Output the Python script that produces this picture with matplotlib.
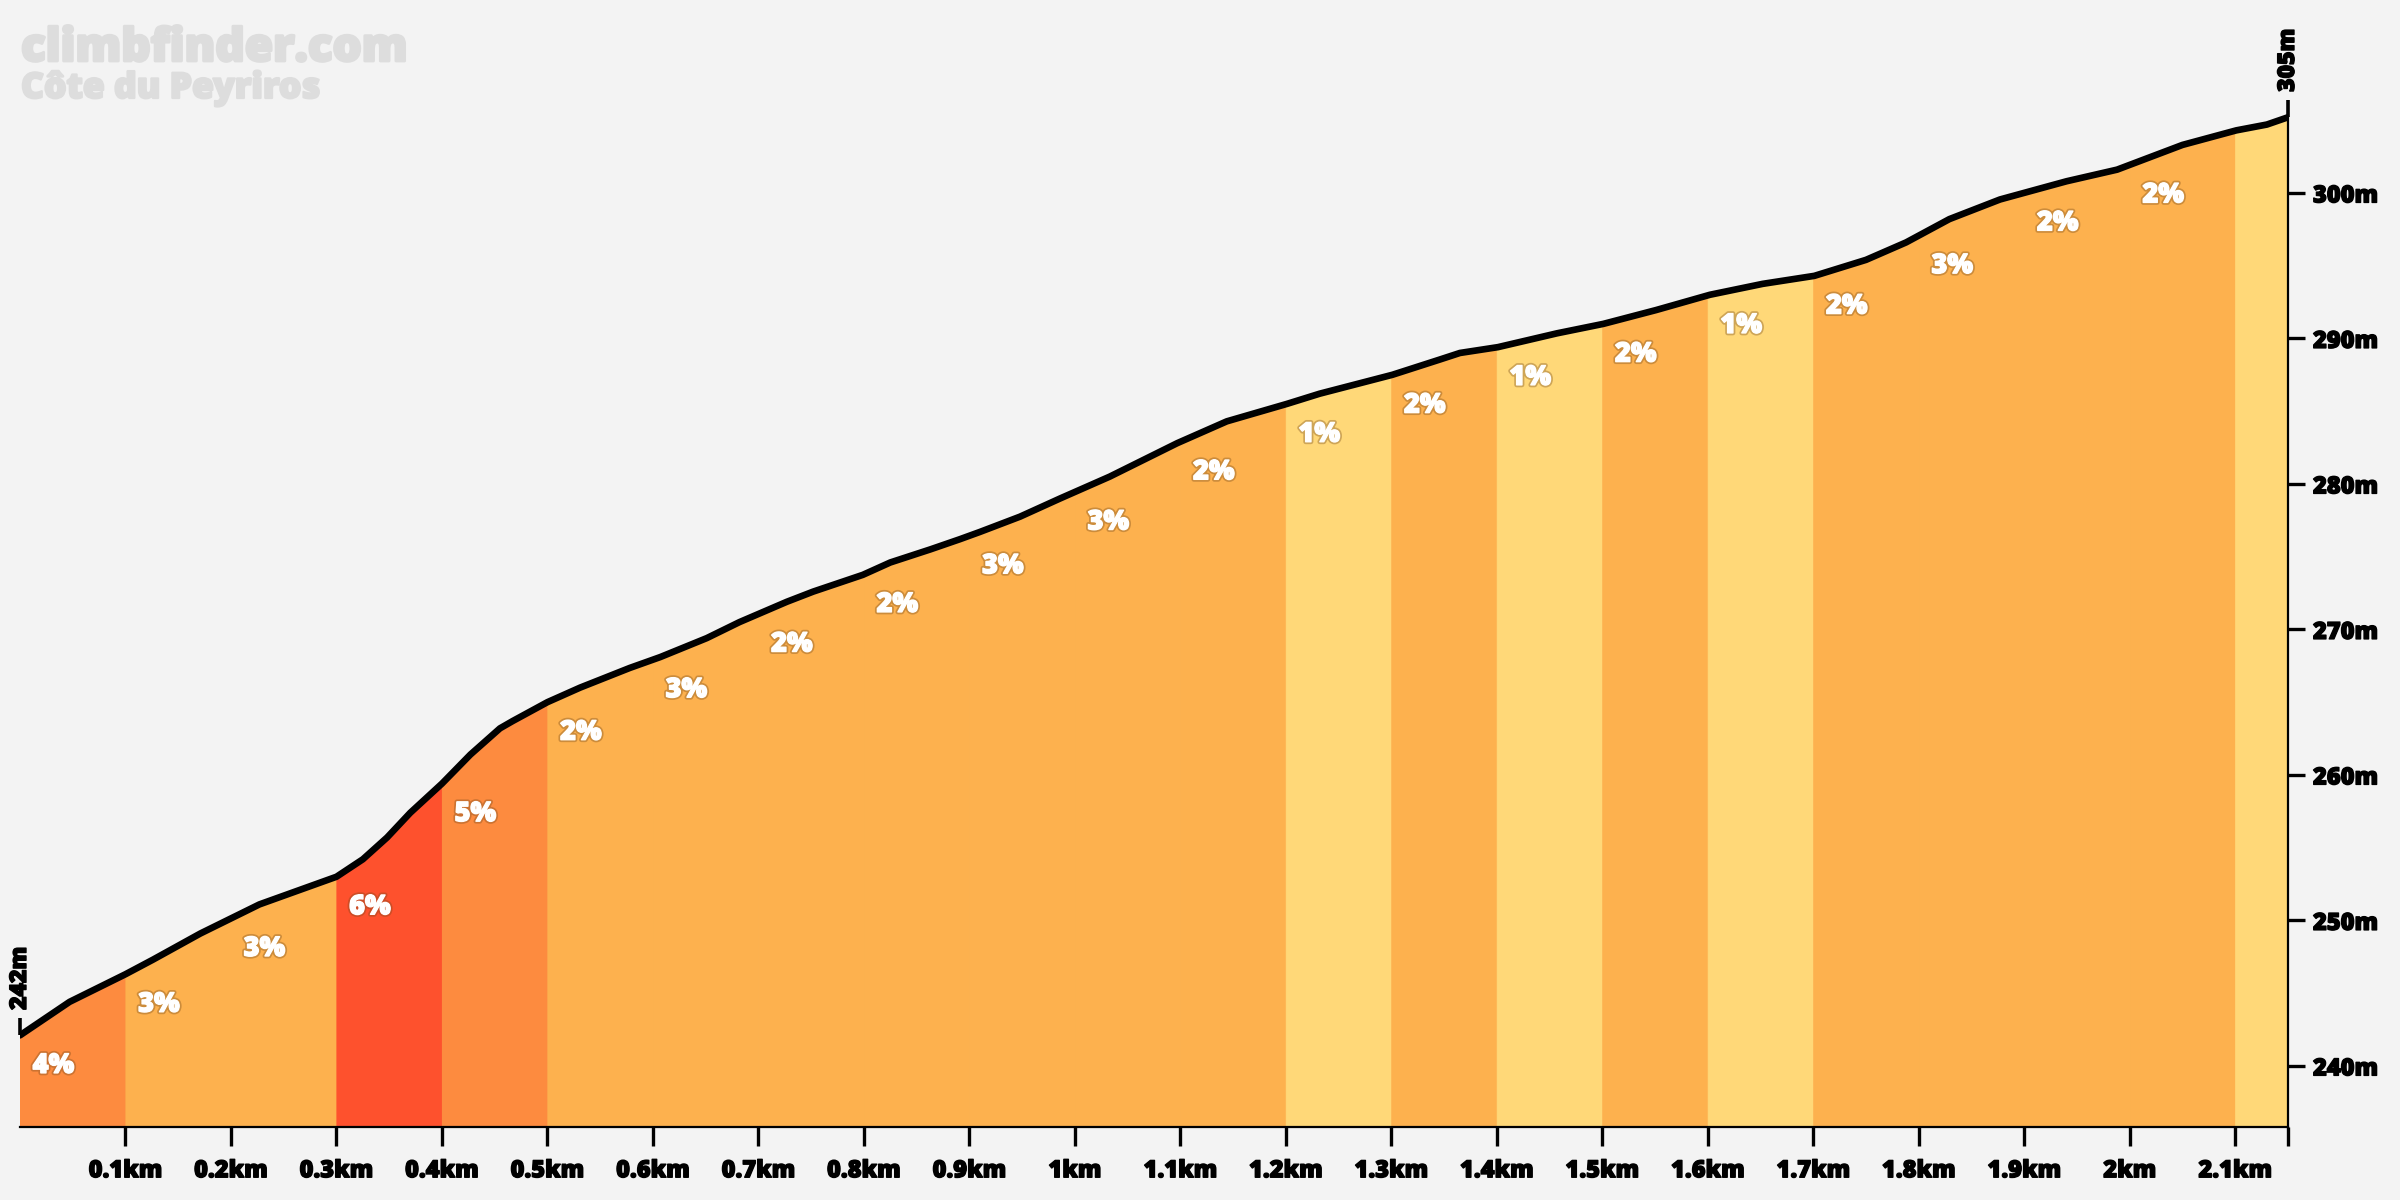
import numpy as np
import matplotlib
matplotlib.use("Agg")
import matplotlib.pyplot as plt
import matplotlib.patheffects as pe

# ---- data ----
dist_km = [0.000, 0.047, 0.100, 0.126, 0.171, 0.227, 0.300, 0.325, 0.348, 0.370,
           0.400, 0.427, 0.455, 0.467, 0.500, 0.531, 0.578, 0.607, 0.651, 0.682,
           0.727, 0.752, 0.799, 0.825, 0.863, 0.891, 0.910, 0.948, 0.986, 1.033,
           1.097, 1.144, 1.201, 1.232, 1.301, 1.346, 1.365, 1.401, 1.457, 1.501,
           1.551, 1.602, 1.652, 1.701, 1.750, 1.788, 1.829, 1.877, 1.940, 1.988,
           2.050, 2.101, 2.130, 2.150]
elev_m = [242.1, 244.4, 246.3, 247.3, 249.1, 251.1, 253.0, 254.2, 255.7, 257.4,
          259.4, 261.4, 263.2, 263.7, 265.0, 266.0, 267.35, 268.1, 269.4, 270.5,
          271.9, 272.6, 273.75, 274.6, 275.5, 276.2, 276.7, 277.75, 279.0, 280.5,
          282.8, 284.3, 285.5, 286.2, 287.5, 288.55, 289.0, 289.4, 290.35, 291.0,
          291.95, 293.0, 293.75, 294.3, 295.4, 296.6, 298.2, 299.55, 300.8, 301.6,
          303.3, 304.3, 304.7, 305.2]

seg_start = [0.0, 0.1, 0.2, 0.3, 0.4, 0.5, 0.6, 0.7, 0.8, 0.9, 1.0, 1.1, 1.2,
             1.3, 1.4, 1.5, 1.6, 1.7, 1.8, 1.9, 2.0, 2.1]
seg_end = [0.1, 0.2, 0.3, 0.4, 0.5, 0.6, 0.7, 0.8, 0.9, 1.0, 1.1, 1.2, 1.3,
           1.4, 1.5, 1.6, 1.7, 1.8, 1.9, 2.0, 2.1, 2.15]
seg_grade = [4, 3, 3, 6, 5, 2, 3, 2, 2, 3, 3, 2, 1, 2, 1, 2, 1, 2, 3, 2, 2, 1]
seg_label = ["4%", "3%", "3%", "6%", "5%", "2%", "3%", "2%", "2%", "3%", "3%",
             "2%", "1%", "2%", "1%", "2%", "1%", "2%", "3%", "2%", "2%", ""]

x_ticks = [0.1, 0.2, 0.3, 0.4, 0.5, 0.6, 0.7, 0.8, 0.9, 1.0, 1.1, 1.2, 1.3,
           1.4, 1.5, 1.6, 1.7, 1.8, 1.9, 2.0, 2.1]
x_tick_labels = ["0.1km", "0.2km", "0.3km", "0.4km", "0.5km", "0.6km", "0.7km",
                 "0.8km", "0.9km", "1km", "1.1km", "1.2km", "1.3km", "1.4km",
                 "1.5km", "1.6km", "1.7km", "1.8km", "1.9km", "2km", "2.1km"]
y_ticks = [240, 250, 260, 270, 280, 290, 300]
y_tick_labels = ["240m", "250m", "260m", "270m", "280m", "290m", "300m"]

title_site = "climbfinder.com"
title_climb = "Côte du Peyriros"
start_label = "242m"
end_label = "305m"

grade_colors = {1: "#FFD878", 2: "#FDB14E", 3: "#FDB14E", 4: "#FD8B3F",
                5: "#FD8B3F", 6: "#FE512D"}

# ---- style ----
BG = "#F3F3F3"
FONT = "Open Sans"
plt.rcParams["font.family"] = [FONT, "DejaVu Sans"]
W = 800

def thick(color, lw=1.2):
    return [pe.withStroke(linewidth=lw, foreground=color)]

fig = plt.figure(figsize=(24, 12), dpi=100, facecolor=BG)
ax = fig.add_axes([20 / 2400, 73 / 1200, 2268 / 2400, 1127 / 1200])
ax.set_facecolor(BG)
ymin, ymax = 235.8, 313.26
ax.set_xlim(0, 2.15)
ax.set_ylim(ymin, ymax)

d = np.array(dist_km)
e = np.array(elev_m)

for s, t, g in zip(seg_start, seg_end, seg_grade):
    inside = (d > s) & (d < t)
    xs = np.concatenate([[s], d[inside], [t]])
    ys = np.interp(xs, d, e)
    c = grade_colors[g]
    ax.fill_between(xs, ymin, ys, facecolor=c, edgecolor=c, linewidth=0.8,
                    zorder=1)

ax.plot(d, e, color="black", lw=4.8, solid_capstyle="round",
        solid_joinstyle="round", zorder=3)

# percentage labels
shadow = [pe.withStroke(linewidth=3.5, foreground=(0.45, 0.28, 0.1, 0.35)),
          pe.withStroke(linewidth=1.0, foreground="white")]
for s, lab in zip(seg_start, seg_label):
    if not lab:
        continue
    y0 = np.interp(s, d, e)
    ax.text(s + 0.012, y0 - 2.1, lab, color="white", fontsize=19.5,
            fontweight=W, ha="left", va="center", zorder=4,
            path_effects=shadow)

# start/end markers
for xk, yk, lab in [(d[0], e[0], start_label), (d[-1], e[-1], end_label)]:
    ax.plot([xk, xk], [yk, yk + 1.2], color="black", lw=2.6, zorder=5,
            clip_on=False, solid_capstyle="butt")
    ax.text(xk, yk + 1.75, lab, rotation=90, ha="center", va="bottom",
            fontsize=16.5, fontweight=W, color="black", zorder=5,
            path_effects=thick("black", 1.0))

# axes
for sp in ["top", "left"]:
    ax.spines[sp].set_visible(False)
ax.spines["bottom"].set_linewidth(1.6)
ax.spines["right"].set_linewidth(1.6)
ax.spines["right"].set_zorder(6)
ax.spines["bottom"].set_zorder(6)
ax.spines["right"].set_bounds(ymin, e[-1])

ax.set_xticks(x_ticks)
ax.set_xticklabels(x_tick_labels)
ax.set_xticks([2.15], minor=True)
ax.tick_params(axis="x", which="both", length=13.5, width=2.4, pad=9,
               labelsize=17, colors="black")
ax.yaxis.tick_right()
ax.set_yticks(y_ticks)
ax.set_yticklabels(y_tick_labels)
ax.tick_params(axis="y", length=12, width=2.4, pad=6, labelsize=17)
for lbl in ax.get_xticklabels() + ax.get_yticklabels():
    lbl.set_fontweight(W)
    lbl.set_path_effects(thick("black", 1.0))

# watermark titles
fig.text(21 / 2400, 1 - 61 / 1200, title_site, fontsize=33, fontweight=W,
         color="#DDDDDD", ha="left", va="baseline",
         path_effects=thick("#DDDDDD", 2.0))
fig.text(21 / 2400, 1 - 98 / 1200, title_climb, fontsize=25.5, fontweight=W,
         color="#DDDDDD", ha="left", va="baseline",
         path_effects=thick("#DDDDDD", 1.6))

fig.savefig("out.png", dpi=100, facecolor=BG)
